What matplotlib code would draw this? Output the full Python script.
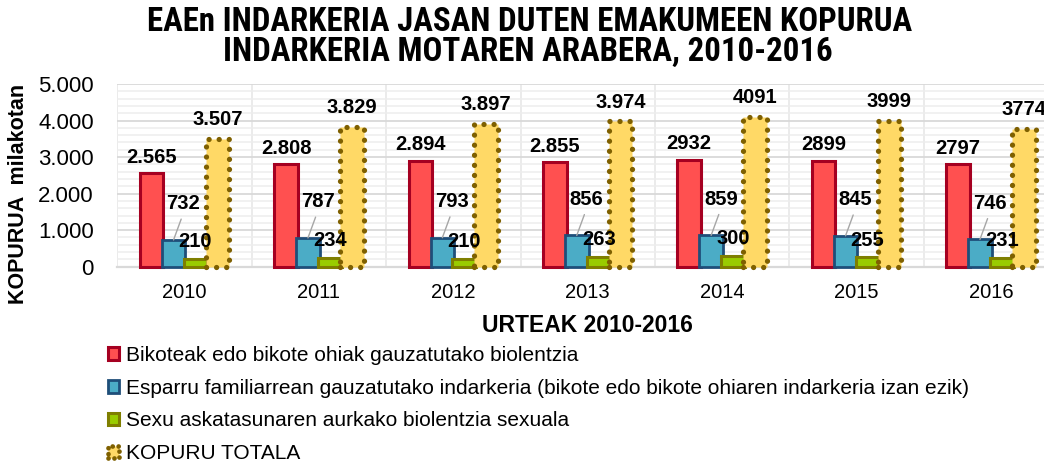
import matplotlib
matplotlib.use("Agg")
import matplotlib.pyplot as plt
from matplotlib.patches import Rectangle
from matplotlib.legend_handler import HandlerPatch
from matplotlib.ticker import MultipleLocator
from matplotlib import font_manager
import numpy as np

plt.rcParams['font.family'] = ['Liberation Sans', 'DejaVu Sans']

years = ['2010', '2011', '2012', '2013', '2014', '2015', '2016']
bikote = [2565, 2808, 2894, 2855, 2932, 2899, 2797]
familia = [732, 787, 793, 856, 859, 845, 746]
sexu = [210, 234, 210, 263, 300, 255, 231]
totala = [3507, 3829, 3897, 3974, 4091, 3999, 3774]

bikote_lbl = ['2.565', '2.808', '2.894', '2.855', '2932', '2899', '2797']
familia_lbl = ['732', '787', '793', '856', '859', '845', '746']
sexu_lbl = ['210', '234', '210', '263', '300', '255', '231']
totala_lbl = ['3.507', '3.829', '3.897', '3.974', '4091', '3999', '3774']

ytick_vals = [0, 1000, 2000, 3000, 4000, 5000]
ytick_lbls = ['0', '1.000', '2.000', '3.000', '4.000', '5.000']

series_names = ['Bikoteak edo bikote ohiak gauzatutako biolentzia',
                'Esparru familiarrean gauzatutako indarkeria (bikote edo bikote ohiaren indarkeria izan ezik)',
                'Sexu askatasunaren aurkako biolentzia sexuala',
                'KOPURU TOTALA']

title_lines = ['EAEn INDARKERIA JASAN DUTEN EMAKUMEEN KOPURUA',
               'INDARKERIA MOTAREN ARABERA, 2010-2016']

W, H = 1044, 468
fig = plt.figure(figsize=(W / 100, H / 100), dpi=100)
ax = fig.add_axes([117.3 / W, (H - 266.7) / H, 940.8 / W, 182.7 / H])

x = np.arange(len(years))
step = 0.163
width = 0.175

dot_style = dict(facecolor='#FFD966', edgecolor='#7F6000', linewidth=3.8,
                 linestyle=(0, (0.01, 1.9)), capstyle='round')
styles = [
    dict(facecolor='#FF5050', edgecolor='#A50021', linewidth=2.2),
    dict(facecolor='#4BACC6', edgecolor='#1F4E79', linewidth=2.0),
    dict(facecolor='#99CC00', edgecolor='#7F7F00', linewidth=2.2),
    dot_style,
]
data = [bikote, familia, sexu, totala]

for k in range(4):
    ax.bar(x + (k - 1.5) * step, data[k], width, zorder=3 + k * 0.1,
           clip_on=False, **styles[k])

ax.set_xlim(-0.5, len(years) - 0.5)
ax.set_ylim(0, 5000)
ax.set_yticks(ytick_vals)
ax.set_yticklabels(ytick_lbls)
ax.yaxis.set_minor_locator(MultipleLocator(200))
ax.set_xticks(x)
ax.set_xticklabels(years)
ax.set_xticks(np.arange(-0.5, len(years), 0.5), minor=True)
ax.grid(which='major', axis='y', color='#D9D9D9', linewidth=1.3, zorder=0)
ax.grid(which='minor', axis='y', color='#EDEDED', linewidth=1.1, zorder=0)
ax.grid(which='minor', axis='x', color='#E6E6E6', linewidth=1.1, zorder=0)
ax.grid(which='major', axis='x', visible=False)
ax.tick_params(axis='both', which='both', length=0)
ax.tick_params(axis='y', pad=17, labelsize=16)
ax.tick_params(axis='x', pad=12, labelsize=14.5)
for s in ['top', 'right', 'left']:
    ax.spines[s].set_visible(False)
ax.spines['bottom'].set_color('#D9D9D9')
ax.spines['bottom'].set_linewidth(1.6)
ax.spines['bottom'].set_zorder(2.5)

lblfont = dict(fontsize=14.5, fontweight='bold', color='black')
for xi, v, t in zip(x, bikote, bikote_lbl):
    ax.annotate(t, (xi - 1.5 * step, v), xytext=(0, 11.5), textcoords='offset points',
                ha='center', va='center', zorder=10, **lblfont)
for xi, v, t in zip(x, familia, familia_lbl):
    ax.annotate(t, (xi - 0.5 * step, v), xytext=(7, 26), textcoords='offset points',
                ha='center', va='center', zorder=10, **lblfont)
    ax.annotate('', (xi - 0.5 * step, v), xytext=(5.5, 15), textcoords='offset points',
                arrowprops=dict(arrowstyle='-', color='#A6A6A6', lw=1.0,
                                shrinkA=0, shrinkB=0), zorder=9)
for xi, v, t in zip(x, sexu, sexu_lbl):
    ax.annotate(t, (xi + 0.5 * step, v), xytext=(0, 12.5), textcoords='offset points',
                ha='center', va='center', zorder=10, **lblfont)
for xi, v, t in zip(x, totala, totala_lbl):
    ax.annotate(t, (xi + 1.5 * step, v), xytext=(0, 14), textcoords='offset points',
                ha='center', va='center', zorder=10, **lblfont)

# title: prefer a narrow bold face if one is installed, fit to the reference width
names = {f.name for f in font_manager.fontManager.ttflist}
title_family = ['Liberation Sans']
for cand in ['Liberation Sans Narrow', 'Arial Narrow', 'Roboto Condensed',
             'Open Sans Condensed']:
    if cand in names:
        title_family = [cand, 'Liberation Sans']
        break
t1 = fig.text(530 / W, 1 - 22 / H, title_lines[0], ha='center', va='center',
              fontsize=18, fontweight='bold', family=title_family)
t2 = fig.text(528 / W, 1 - 52 / H, title_lines[1], ha='center', va='center',
              fontsize=18, fontweight='bold', family=title_family)
r = fig.canvas.get_renderer()
w1 = t1.get_window_extent(r).width
fs = 18 * 765.0 / w1
t1.set_fontsize(fs)
t2.set_fontsize(fs)

fig.text(587 / W, 1 - 325 / H, 'URTEAK 2010-2016', ha='center', va='center',
         fontsize=16.5, fontweight='bold')
fig.text(19 / W, 1 - 194 / H, 'KOPURUA  milakotan', ha='center', va='center',
         rotation=90, fontsize=15.5, fontweight='bold')


class DotHandler(HandlerPatch):
    def create_artists(self, *args, **kwargs):
        arts = super().create_artists(*args, **kwargs)
        for a in arts:
            a.set_capstyle('round')
            a.set_linewidth(3.4)
            a.set_linestyle((0, (0.01, 1.25)))
        return arts


handles = [Rectangle((0, 0), 1, 1, **styles[k]) for k in range(3)]
tot_handle = Rectangle((0, 0), 1, 1, **dot_style)
handles.append(tot_handle)
fig.legend(handles, series_names, loc='upper left',
           bbox_to_anchor=(108 / W, 1 - 346 / H), frameon=False,
           fontsize=15, handlelength=0.55, handleheight=0.55, handletextpad=0.3,
           labelspacing=0.66, borderpad=0, borderaxespad=0,
           handler_map={tot_handle: DotHandler()})

fig.savefig('out.png', dpi=100)
